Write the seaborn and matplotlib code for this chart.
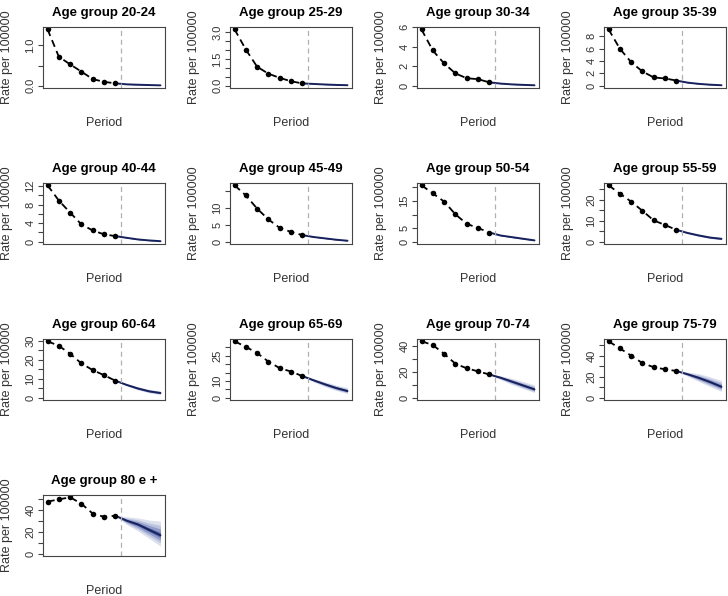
import numpy as np
import matplotlib
matplotlib.use("Agg")
import matplotlib.pyplot as plt
import seaborn as sns

# age groups, observed periods 1..7, projected periods 8..11
groups = ["20-24", "25-29", "30-34", "35-39", "40-44", "45-49", "50-54",
          "55-59", "60-64", "65-69", "70-74", "75-79", "80 e +"]
obs_periods = [1, 2, 3, 4, 5, 6, 7]
proj_periods = [8, 9, 10, 11]

observed = [
    [1.40, 0.72, 0.53, 0.35, 0.165, 0.096, 0.06],
    [3.15, 2.02, 1.06, 0.67, 0.44, 0.25, 0.13],
    [5.75, 3.6, 2.28, 1.26, 0.77, 0.67, 0.35],
    [9.1, 5.98, 3.8, 2.3, 1.34, 1.17, 0.84],
    [12.2, 8.9, 6.3, 3.74, 2.44, 1.6, 1.22],
    [16.7, 13.7, 9.8, 6.6, 4.1, 2.9, 1.96],
    [20.8, 17.8, 14.8, 10.1, 6.6, 5.06, 3.4],
    [27.0, 23.0, 19.2, 14.8, 10.2, 8.0, 5.7],
    [29.8, 27.4, 23.2, 18.1, 14.6, 11.9, 9.0],
    [33.6, 30.3, 26.6, 21.5, 17.6, 15.6, 12.9],
    [43.7, 40.8, 34.0, 26.3, 22.8, 20.4, 18.0],
    [54.0, 47.2, 40.3, 33.1, 29.2, 27.2, 25.6],
    [48.0, 50.0, 52.0, 46.0, 37.0, 34.0, 35.0],
]

projected = [
    [0.035, 0.025, 0.017, 0.01],
    [0.10, 0.07, 0.045, 0.03],
    [0.22, 0.14, 0.09, 0.05],
    [0.50, 0.30, 0.17, 0.08],
    [0.85, 0.50, 0.28, 0.12],
    [1.4, 1.0, 0.6, 0.3],
    [2.3, 1.7, 1.1, 0.5],
    [4.2, 3.0, 2.0, 1.4],
    [6.8, 4.9, 3.4, 2.5],
    [10.4, 8.0, 5.8, 4.0],
    [15.5, 12.5, 9.5, 6.5],
    [22.5, 19.0, 15.0, 10.5],
    [30.5, 27.0, 22.0, 17.0],
]

proj_hi = [
    [0.04, 0.03, 0.022, 0.015],
    [0.11, 0.08, 0.055, 0.04],
    [0.24, 0.16, 0.11, 0.07],
    [0.54, 0.34, 0.21, 0.11],
    [0.92, 0.57, 0.34, 0.17],
    [1.5, 1.12, 0.72, 0.4],
    [2.5, 1.95, 1.35, 0.75],
    [4.6, 3.6, 2.6, 2.0],
    [7.4, 5.8, 4.4, 3.6],
    [11.4, 9.5, 7.5, 6.0],
    [17.0, 15.0, 12.5, 10.0],
    [24.5, 23.0, 20.0, 16.5],
    [34.0, 33.0, 31.0, 30.0],
]

proj_lo = [
    [0.03, 0.02, 0.012, 0.006],
    [0.09, 0.06, 0.035, 0.02],
    [0.20, 0.12, 0.07, 0.035],
    [0.46, 0.26, 0.13, 0.05],
    [0.78, 0.43, 0.22, 0.08],
    [1.3, 0.88, 0.48, 0.2],
    [2.1, 1.45, 0.85, 0.3],
    [3.8, 2.5, 1.5, 0.9],
    [6.2, 4.1, 2.6, 1.7],
    [9.4, 6.6, 4.3, 2.5],
    [14.0, 10.2, 7.0, 4.0],
    [20.5, 15.5, 10.5, 6.0],
    [27.0, 21.0, 14.0, 7.0],
]

y_ticks = [
    [0, 0.5, 1.0],
    [0, 0.5, 1.0, 1.5, 2.0, 2.5, 3.0],
    [0, 2, 4, 6],
    [0, 2, 4, 6, 8],
    [0, 2, 4, 6, 8, 10, 12],
    [0, 5, 10, 15],
    [0, 5, 10, 15, 20],
    [0, 5, 10, 15, 20, 25],
    [0, 5, 10, 15, 20, 25, 30],
    [0, 5, 10, 15, 20, 25, 30],
    [0, 10, 20, 30, 40],
    [0, 10, 20, 30, 40, 50],
    [0, 10, 20, 30, 40, 50],
]
y_labels = [
    ["0.0", "", "1.0"],
    ["0.0", "", "", "1.5", "", "", "3.0"],
    ["0", "2", "4", "6"],
    ["0", "2", "4", "6", "8"],
    ["0", "", "4", "", "8", "", "12"],
    ["0", "5", "10", ""],
    ["0", "5", "", "15", ""],
    ["0", "", "10", "", "20", ""],
    ["0", "", "10", "", "20", "", "30"],
    ["0", "", "10", "", "", "25", ""],
    ["0", "", "20", "", "40"],
    ["0", "", "20", "", "40", ""],
    ["0", "", "20", "", "40", ""],
]

sns.set_theme(style="ticks")
plt.rcParams["font.family"] = ["Liberation Sans", "DejaVu Sans"]

W, H = 728, 596
fig = plt.figure(figsize=(W / 100, H / 100), dpi=100)
col_left = [43, 230, 417, 604]
row_top = [27, 183, 339, 495]
ax_w, ax_h = 122, 61

navy = "#17215c"
band_fracs = [1.0, 0.7, 0.45, 0.2]
band_cols = ["#dde1ee", "#bcc3de", "#8f9bc9", "#5a68a8"]
text_col = "#333333"

for i, g in enumerate(groups):
    r, c = divmod(i, 4)
    ax = fig.add_axes([col_left[c] / W, 1 - (row_top[r] + ax_h) / H, ax_w / W, ax_h / H])

    obs = observed[i]
    x_band = [obs_periods[-1]] + proj_periods
    med = np.array([obs[-1]] + projected[i])
    hi = np.array([obs[-1]] + proj_hi[i])
    lo = np.array([obs[-1]] + proj_lo[i])

    for frac, col in zip(band_fracs, band_cols):
        ax.fill_between(x_band, med - frac * (med - lo), med + frac * (hi - med),
                        color=col, lw=0)

    # projected median
    sns.lineplot(x=x_band, y=med, color=navy, lw=1.4, ax=ax)
    ax.axvline(7.5, color="#b0b0b0", ls=(0, (4, 3)), lw=0.9)
    # observed rates
    sns.lineplot(x=obs_periods, y=obs, color="black", linestyle=(0, (4, 2.5)),
                 lw=1.3, marker="o", markersize=4, markeredgewidth=0, ax=ax)

    ymax = max(obs + proj_hi[i])
    ax.set_xlim(0.6, 11.4)
    ax.set_ylim(-0.04 * ymax, 1.04 * ymax)
    ax.set_xticks([])
    ax.set_yticks(y_ticks[i])
    ax.set_yticklabels(y_labels[i], rotation=90, va="center")
    ax.tick_params(axis="y", direction="out", length=3.5, width=0.8, pad=2,
                   labelsize=8, colors="#444444", labelcolor=text_col)
    for s in ax.spines.values():
        s.set_color("#444444")
        s.set_linewidth(0.8)

    ax.set_title("Age group " + g, fontsize=9.5, fontweight="bold", pad=8, color="black")
    ax.set_xlabel("Period", fontsize=9, color=text_col)
    ax.xaxis.set_label_coords(0.5, -35 / ax_h)
    ax.xaxis.label.set_va("center")
    ax.set_ylabel("Rate per 100000", fontsize=9, color=text_col)
    ax.yaxis.set_label_coords(-30 / ax_w, 0.5)

fig.savefig("out.png", dpi=100)
